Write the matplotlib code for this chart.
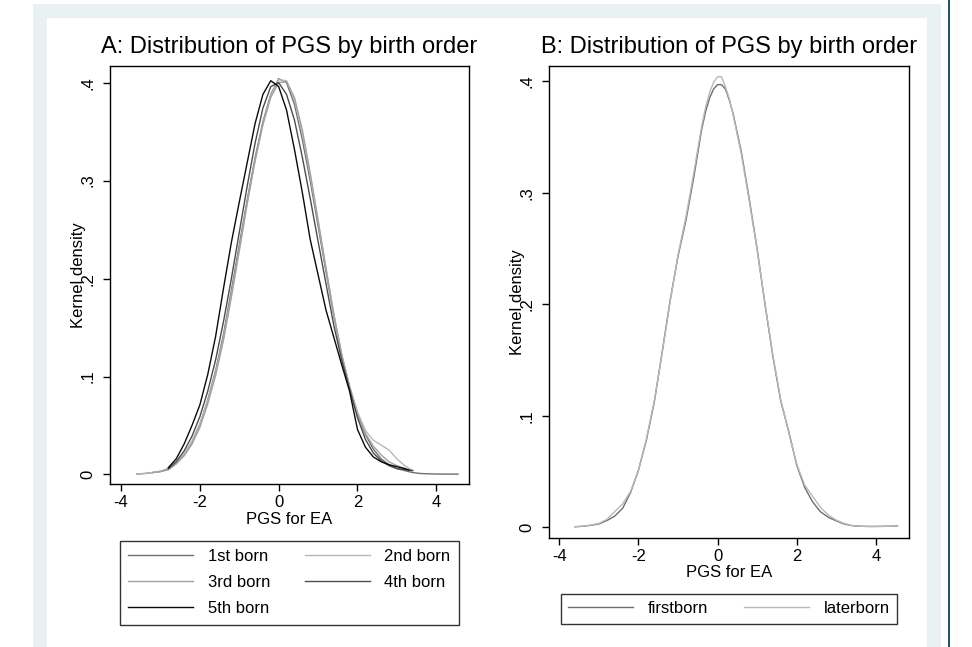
import matplotlib.pyplot as plt
from matplotlib.patches import Rectangle
from matplotlib.lines import Line2D
import numpy as np

plt.rcParams['font.family'] = ['Liberation Sans', 'DejaVu Sans']

# ---- data ----
grid = [-3.6, -3.4, -3.2, -3.0, -2.8, -2.6, -2.4, -2.2, -2.0, -1.8, -1.6,
        -1.4, -1.2, -1.0, -0.8, -0.6, -0.4, -0.2, 0.0, 0.2, 0.4, 0.6, 0.8,
        1.0, 1.2, 1.4, 1.6, 1.8, 2.0, 2.2, 2.4, 2.6, 2.8, 3.0, 3.2, 3.4,
        3.6, 3.8, 4.0, 4.2, 4.4, 4.55]

# panel A: birth order 1..5
born1_x = grid
born1_y = [.0005, .001, .002, .003, .005, .011, .020, .033, .051, .076, .106,
           .143, .188, .234, .280, .323, .360, .388, .404, .400, .378, .342,
           .300, .254, .207, .162, .122, .090, .062, .041, .026, .016, .010,
           .006, .004, .002, .001, .0007, .0005, .0004, .0004, .0004]
born2_x = grid[:36]
born2_y = [.0005, .001, .002, .0035, .006, .012, .021, .034, .052, .075, .104,
           .140, .184, .230, .277, .320, .358, .387, .403, .402, .383, .348,
           .305, .258, .210, .164, .123, .090, .064, .045, .035, .030, .025,
           .016, .009, .004]
born3_x = grid[2:36]
born3_y = [.002, .003, .006, .011, .019, .031, .048, .072, .101, .137, .181,
           .228, .276, .320, .357, .385, .400, .401, .385, .352, .308, .260,
           .211, .163, .121, .088, .061, .042, .029, .020, .013, .009, .006,
           .004]
born4_x = grid[4:36]
born4_y = [.006, .013, .024, .039, .059, .085, .117, .156, .200, .247, .294,
           .338, .374, .396, .400, .388, .362, .324, .282, .238, .195, .152,
           .117, .087, .058, .036, .022, .014, .009, .006, .005, .004]
born5_x = grid[4:35] + [3.3]
born5_y = [.007, .016, .031, .050, .071, .102, .141, .190, .237, .278, .318,
           .358, .388, .402, .396, .372, .332, .288, .240, .204, .168, .140,
           .112, .085, .046, .028, .018, .013, .010, .008, .006, .0045]

# panel B (extra points around the peak)
gridB = [-3.6, -3.4, -3.2, -3.0, -2.8, -2.6, -2.4, -2.2, -2.0, -1.8, -1.6,
         -1.4, -1.2, -1.0, -0.8, -0.6, -0.4, -0.3, -0.2, -0.1, 0.0, 0.1, 0.2,
         0.3, 0.4, 0.6, 0.8, 1.0, 1.2, 1.4, 1.6, 1.8, 2.0, 2.2, 2.4, 2.6,
         2.8, 3.0, 3.2, 3.4, 3.6, 3.8, 4.0, 4.2, 4.4, 4.55]
first_x = gridB
first_y = [.0005, .001, .0018, .003, .006, .010, .017, .031, .051, .078, .112,
           .157, .203, .243, .275, .314, .357, .373, .385, .393, .397, .397,
           .393, .383, .370, .337, .295, .250, .200, .153, .113, .086, .056,
           .036, .023, .014, .009, .0058, .003, .0015, .001, .0008, .0008,
           .0009, .0010, .0012]
later_x = gridB
later_y = [.0005, .001, .002, .0035, .007, .014, .021, .032, .051, .079, .113,
           .156, .202, .244, .278, .318, .360, .377, .390, .399, .404, .404,
           .395, .384, .369, .335, .293, .249, .201, .154, .114, .085, .057,
           .038, .028, .018, .011, .0065, .0035, .0015, .001, .0008, .0008,
           .0009, .0010, .0012]

xticks = [-4, -2, 0, 2, 4]
xtick_labels = ['-4', '-2', '0', '2', '4']
yticks = [0, .1, .2, .3, .4]
ytick_labels = ['0', '.1', '.2', '.3', '.4']

# ---- figure ----
W, H = 972, 647
fig = plt.figure(figsize=(W / 100, H / 100), dpi=100)


def band(x0, y0, x1, y1, color):
    fig.add_artist(Rectangle((x0 / W, 1 - y1 / H), (x1 - x0) / W, (y1 - y0) / H,
                             transform=fig.transFigure, facecolor=color,
                             edgecolor='none', zorder=-10))


band(33, 4, 941, 647, '#e9f1f3')
band(47, 18, 927, 647, 'white')
band(947.5, 0, 949.5, 647, '#1f5b63')

axA = fig.add_axes([110 / W, 1 - 484 / H, 359 / W, 418 / H])
axB = fig.add_axes([549 / W, 1 - 537.7 / H, 360 / W, 471.7 / H])

c1, c2, c3, c4, c5 = '#6e6e6e', '#b8b8b8', '#a2a2a2', '#4c4c4c', '#0a0a0a'
lw = 1.0
axA.plot(born1_x, born1_y, color=c1, lw=lw)
axA.plot(born2_x, born2_y, color=c2, lw=lw)
axA.plot(born3_x, born3_y, color=c3, lw=lw)
axA.plot(born4_x, born4_y, color=c4, lw=lw)
axA.plot(born5_x, born5_y, color=c5, lw=lw)

axB.plot(first_x, first_y, color=c1, lw=lw)
axB.plot(later_x, later_y, color=c2, lw=lw)

axA.set_xlim(-4.28, 4.83)
axA.set_ylim(-0.0097, 0.417)
axB.set_xlim(-4.26, 4.84)
axB.set_ylim(-0.0093, 0.4137)

for ax in (axA, axB):
    ax.set_xticks(xticks)
    ax.set_xticklabels(xtick_labels)
    ax.set_yticks(yticks)
    ax.set_yticklabels(ytick_labels, rotation=90, va='center')
    ax.tick_params(direction='out', length=4.7, width=1.0, labelsize=12,
                   color='black')
    ax.tick_params(axis='x', pad=3.5)
    ax.tick_params(axis='y', pad=6)
    for s in ax.spines.values():
        s.set_linewidth(1.0)
        s.set_color('black')
    ax.set_xlabel('PGS for EA', fontsize=12, labelpad=1)
    ax.set_ylabel('Kernel density', fontsize=12)
    ax.yaxis.set_label_coords(-0.068, 0.5)

axA.set_title('A: Distribution of PGS by birth order', fontsize=17, pad=9)
axB.set_title('B: Distribution of PGS by birth order', fontsize=17, pad=9)

labelsA = ['1st born', '3rd born', '5th born', '2nd born', '4th born']
colorsA = [c1, c3, c5, c2, c4]
handlesA = [Line2D([], [], color=c, lw=lw) for c in colorsA]
legA = axA.legend(handlesA, labelsA, ncol=2, loc='upper left',
                  bbox_to_anchor=(0.028, -0.337, 0.944, 0.201), mode='expand',
                  borderaxespad=0, fancybox=False, edgecolor='black',
                  fontsize=12, handlelength=3.9, handletextpad=0.85,
                  labelspacing=0.66, borderpad=0.5)
legA.get_frame().set_linewidth(1.0)

handlesB = [Line2D([], [], color=c, lw=lw) for c in (c1, c2)]
legB = axB.legend(handlesB, ['firstborn', 'laterborn'], ncol=2, loc='upper left',
                  bbox_to_anchor=(0.033, -0.185, 0.934, 0.066), mode='expand',
                  borderaxespad=0, fancybox=False, edgecolor='black',
                  fontsize=12, handlelength=3.9, handletextpad=0.85,
                  borderpad=0.45)
legB.get_frame().set_linewidth(1.0)

fig.savefig('out.png', dpi=100)
